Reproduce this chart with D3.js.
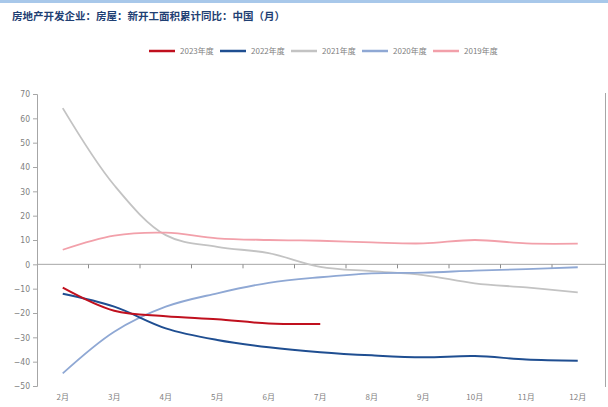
<!DOCTYPE html>
<html><head><meta charset="utf-8">
<script src="https://cdn.jsdelivr.net/npm/d3@7/dist/d3.min.js"></script>
<style>body{margin:0;background:#fff;}svg{display:block;}</style>
</head><body>
<svg id="c" width="608" height="407"></svg>
<script>
const title = "房地产开发企业：房屋：新开工面积累计同比：中国（月）";
const months = ["2月","3月","4月","5月","6月","7月","8月","9月","10月","11月","12月"];
const yTicks = [70,60,50,40,30,20,10,0,-10,-20,-30,-40,-50];
const seriesNames = ["2023年度","2022年度","2021年度","2020年度","2019年度"];
const seriesColors = ["#c0101e","#1f4e91","#c3c3c3","#8fa8d4","#f2a0aa"];
const v2023 = [-9.6,-19.1,-21.3,-22.6,-24.3,-24.5];
const v2022 = [-12.1,-17.4,-26.3,-31.1,-34.1,-36.1,-37.4,-38.2,-37.7,-39.1,-39.6];
const v2021 = [64.2,32.5,12.0,7.2,4.6,-1.0,-2.8,-4.4,-7.8,-9.5,-11.5];
const v2020 = [-44.8,-27.7,-17.4,-11.9,-7.6,-5.3,-3.7,-3.4,-2.6,-2.0,-1.2];
const v2019 = [6.0,11.8,13.0,10.7,10.0,9.7,9.0,8.6,10.0,8.6,8.5];
const seriesValues = [v2023,v2022,v2021,v2020,v2019];

const svg = d3.select("#c");
// header bar
svg.append("rect").attr("x",0).attr("y",0).attr("width",608).attr("height",3).attr("fill","#a8c8ea");
svg.append("text").attr("x",12).attr("y",20).text(title)
  .attr("font-family","'Noto Sans CJK SC'").attr("font-size",10.5).attr("font-weight","bold").attr("fill","#1f3f73");

const x = d3.scaleBand().domain(months).range([37,603.5]);
const y = d3.scaleLinear().domain([-50,70]).range([386,94]);

// y axis
const ya = svg.append("g").attr("transform","translate(37,0)")
  .call(d3.axisLeft(y).tickValues(yTicks).tickSize(4).tickFormat(d3.format("d")));
ya.select(".domain").attr("stroke","#a6a6a6");
ya.selectAll(".tick line").attr("stroke","#a6a6a6");
ya.selectAll("text").attr("fill","#808080").attr("font-family","'Liberation Sans Narrow','DejaVu Sans Condensed',sans-serif").attr("font-size",8.5).attr("x",-7);

// zero axis with band ticks
const xa = svg.append("g").attr("transform",`translate(0,${y(0)})`)
  .call(d3.axisBottom(x).tickSize(0).tickFormat(""));
xa.select(".domain").attr("stroke","#a6a6a6").attr("d",`M37,0H605`);
xa.selectAll(".tick").remove();
const bounds = months.slice(1).map(m => x(m));
svg.append("g").selectAll("line").data(bounds).join("line")
  .attr("x1",d=>d).attr("x2",d=>d).attr("y1",y(0)).attr("y2",y(0)+4).attr("stroke","#8c8c8c");

// month labels
svg.append("g").selectAll("text").data(months).join("text")
  .attr("x",d=>x(d)+x.bandwidth()/2).attr("y",400).attr("text-anchor","middle")
  .attr("fill","#808080").attr("font-family","'Noto Sans CJK SC'").attr("font-size",8).text(d=>d);

// right border
svg.append("line").attr("x1",605.5).attr("x2",605.5).attr("y1",93).attr("y2",387).attr("stroke","#a6a6a6");

const line = d3.line().x((d,i)=>x(months[i])+x.bandwidth()/2).y(d=>y(d)).curve(d3.curveCatmullRom.alpha(0.5));
const drawOrder = [2,4,3,1,0];
drawOrder.forEach(k=>{
  svg.append("path").attr("d",line(seriesValues[k])).attr("fill","none")
    .attr("stroke",seriesColors[k]).attr("stroke-width",k<2?2:1.8);
});

// legend
const lg = svg.append("g").selectAll("g").data(seriesNames).join("g")
  .attr("transform",(d,i)=>`translate(${149+i*71},51)`);
lg.append("line").attr("x1",0).attr("x2",26).attr("y1",0).attr("y2",0)
  .attr("stroke",(d,i)=>seriesColors[i]).attr("stroke-width",2.5);
lg.append("text").attr("x",31).attr("y",3).text(d=>d).attr("fill","#808080")
  .attr("font-family","'Noto Sans CJK SC'").attr("font-size",8);
</script>
</body></html>
